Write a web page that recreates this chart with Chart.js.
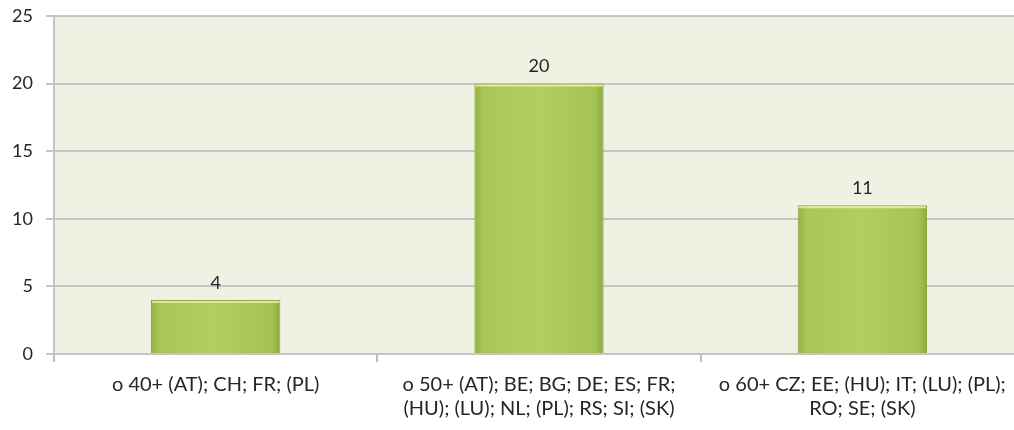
<!DOCTYPE html>
<html>
<head>
<meta charset="utf-8">
<script src="https://cdn.jsdelivr.net/npm/chart.js@4/dist/chart.umd.min.js"></script>
<style>
  html, body { margin: 0; padding: 0; background: #ffffff; overflow: hidden; }
  #wrap { width: 1024px; height: 430px; position: relative; }
</style>
</head>
<body>
<div id="wrap"><canvas id="c" width="1024" height="430"></canvas></div>
<script>
// Age groups with the countries that use them
const categories = [
  ['o 40+ (AT); CH; FR; (PL)'],
  ['o 50+ (AT); BE; BG; DE; ES; FR;', '(HU); (LU); NL; (PL); RS; SI; (SK)'],
  ['o 60+ CZ; EE; (HU); IT; (LU); (PL);', 'RO; SE; (SK)']
];
const counts = [4, 20, 11];
const yTicks = [0, 5, 10, 15, 20, 25];

const FONT = 'Lato, "Open Sans", sans-serif';
const TEXT = '#262626';

// Light fill behind the plot area
const plotBackground = {
  id: 'plotBackground',
  beforeDraw(chart) {
    const { ctx, chartArea: a } = chart;
    ctx.save();
    ctx.fillStyle = '#eff2e3';
    ctx.fillRect(a.left, a.top, a.right - a.left, a.bottom - a.top);
    ctx.restore();
  }
};

// Value printed above each bar, plus a thin light rim along each bar top
const valueLabels = {
  id: 'valueLabels',
  afterDatasetsDraw(chart) {
    const { ctx } = chart;
    const meta = chart.getDatasetMeta(0);
    ctx.save();
    meta.data.forEach((bar) => {
      ctx.fillStyle = 'rgba(225, 240, 160, 0.9)';
      ctx.fillRect(bar.x - bar.width / 2 + 1, bar.y + 1, bar.width - 2, 2);
    });
    ctx.font = '18px ' + FONT;
    ctx.fillStyle = TEXT;
    ctx.textAlign = 'center';
    ctx.textBaseline = 'middle';
    meta.data.forEach((bar, i) => {
      ctx.fillText(String(chart.data.datasets[0].data[i]), bar.x, bar.y - 17);
    });
    ctx.restore();
  }
};

// Soft horizontal shading across each bar
function barFill(context) {
  const chart = context.chart;
  const el = context.element;
  if (!chart.chartArea || !el) return '#a9c85a';
  const x = el.x, w = el.width;
  if (!Number.isFinite(x) || !Number.isFinite(w) || w <= 0) return '#a9c85a';
  const g = chart.ctx.createLinearGradient(x - w / 2, 0, x + w / 2, 0);
  g.addColorStop(0, '#93b142');
  g.addColorStop(0.07, '#a8c659');
  g.addColorStop(0.5, '#b0ce61');
  g.addColorStop(0.93, '#a5c355');
  g.addColorStop(1, '#8dab3e');
  return g;
}

const chart = new Chart(document.getElementById('c'), {
  type: 'bar',
  data: {
    labels: categories,
    datasets: [{
      data: counts,
      backgroundColor: barFill,
      borderColor: '#89a73b',
      borderWidth: 1,
      borderSkipped: 'bottom',
      barPercentage: 0.4,
      categoryPercentage: 1.0
    }]
  },
  options: {
    responsive: false,
    animation: false,
    layout: { padding: { top: 16, left: 0, right: 0, bottom: 0 } },
    plugins: { legend: { display: false }, tooltip: { enabled: false } },
    scales: {
      x: {
        offset: true,
        grid: {
          offset: true,
          drawOnChartArea: false,
          drawTicks: true,
          tickLength: 8,
          color: '#bdbdbd',
          lineWidth: 2
        },
        border: { display: true, color: '#c4c4c4', width: 2 },
        ticks: {
          color: TEXT,
          font: { family: FONT, size: 20, lineHeight: 1.2 },
          padding: 11,
          maxRotation: 0,
          autoSkip: false
        },
        afterFit(scale) { scale.height = 76; }
      },
      y: {
        min: 0,
        max: 25,
        afterBuildTicks(scale) { scale.ticks = yTicks.map(v => ({ value: v })); },
        grid: {
          color: '#c6c6c6',
          lineWidth: 2,
          tickLength: 8,
          drawTicks: true
        },
        border: { display: true, color: '#c4c4c4', width: 2 },
        ticks: {
          color: TEXT,
          font: { family: FONT, size: 18 },
          padding: 13
        },
        afterFit(scale) {
          scale.width = 54;
          scale.paddingTop = 0;
          scale.paddingBottom = 0;
        }
      }
    }
  },
  plugins: [plotBackground, valueLabels]
});
// Redraw once element geometry exists so the bar shading can use it
chart.update();
</script>
</body>
</html>
